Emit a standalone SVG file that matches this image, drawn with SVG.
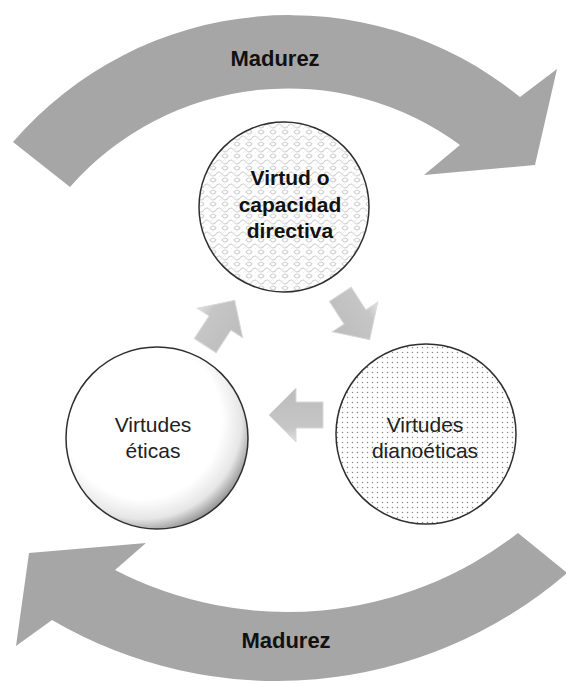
<svg xmlns="http://www.w3.org/2000/svg" width="566" height="684" viewBox="0 0 566 684">
<style>
.big{fill:#a6a6a6}
.lbl{font-family:"Liberation Sans",Arial,sans-serif;font-weight:bold;font-size:22px;fill:#111;text-anchor:middle}
.ntxt{font-family:"Liberation Sans",Arial,sans-serif;font-size:21px;fill:#222;text-anchor:middle}
.btxt{font-family:"Liberation Sans",Arial,sans-serif;font-weight:bold;font-size:21px;fill:#111;text-anchor:middle}
.ring{stroke:#2f2f2f;stroke-width:1.5}
.sm{fill:url(#arrG);stroke:#d8d8d8;stroke-width:1}
</style>
<defs>
<pattern id="weave" width="12" height="12" patternUnits="userSpaceOnUse">
<rect width="12" height="12" fill="#fff"/>
<path d="M0,6 Q3,2 6,6 T12,6 M-6,12 Q-3,8 0,12 T6,12 T12,12 M0,0 Q3,-4 6,0 T12,0" fill="none" stroke="#d0d0d0" stroke-width="1.1"/>
<path d="M3,3 L9,9 M9,3 L3,9" fill="none" stroke="#e6e6e6" stroke-width="0.7"/>
</pattern>
<pattern id="dots" width="5" height="5" patternUnits="userSpaceOnUse">
<rect width="5" height="5" fill="#fff"/>
<circle cx="2.5" cy="2.5" r="0.75" fill="#8a8a8a"/>
</pattern>
<radialGradient id="sphere" cx="0.42" cy="0.4" r="0.62">
<stop offset="0" stop-color="#ffffff"/>
<stop offset="0.7" stop-color="#ffffff"/>
<stop offset="0.88" stop-color="#e6e6e6"/>
<stop offset="1" stop-color="#9a9a9a"/>
</radialGradient>
<linearGradient id="arrG" x1="0" y1="0" x2="0" y2="1">
<stop offset="0" stop-color="#e2e2e2"/>
<stop offset="0.25" stop-color="#c6c6c6"/>
<stop offset="1" stop-color="#bcbcbc"/>
</linearGradient>
<path id="blk" d="M-27,-13 L0,-13 L0,-27 L27,0 L0,27 L0,13 L-27,13 Z"/>
</defs>

<g id="arrow-top">
<path class="big" d="M13,142 A365,365 0 0 1 520,97 L557,69 L535,165 L424,175 L460,145 A290,290 0 0 0 70,187 Z"/>
<text class="lbl" x="275" y="66">Madurez</text>
</g>
<g id="arrow-bottom">
<path class="big" d="M518,533 A375.5,375.5 0 0 1 115,570 L146,543 L29,553 L16,646 L52,620 A444.5,444.5 0 0 0 566,574 L566,572 Z"/>
<text class="lbl" x="286" y="648">Madurez</text>
</g>

<g id="connectors">
<use href="#blk" class="sm" transform="translate(220,323) rotate(-57)"/>
<use href="#blk" class="sm" transform="translate(355,317) rotate(57)"/>
<use href="#blk" class="sm" transform="translate(296,415) rotate(180)"/>
</g>

<g id="node-virtud">
<circle class="ring" cx="284" cy="207" r="85" fill="url(#weave)"/>
<text class="btxt" x="290" y="185">Virtud o</text>
<text class="btxt" x="290" y="212">capacidad</text>
<text class="btxt" x="290" y="238">directiva</text>
</g>

<g id="node-dianoeticas">
<circle class="ring" cx="426" cy="434" r="90" fill="url(#dots)"/>
<text class="ntxt" x="425" y="432">Virtudes</text>
<text class="ntxt" x="425" y="458">dianoéticas</text>
</g>

<g id="node-eticas">
<circle class="ring" cx="157" cy="438" r="91" fill="url(#sphere)"/>
<text class="ntxt" x="153" y="432">Virtudes</text>
<text class="ntxt" x="153" y="458">éticas</text>
</g>
</svg>
